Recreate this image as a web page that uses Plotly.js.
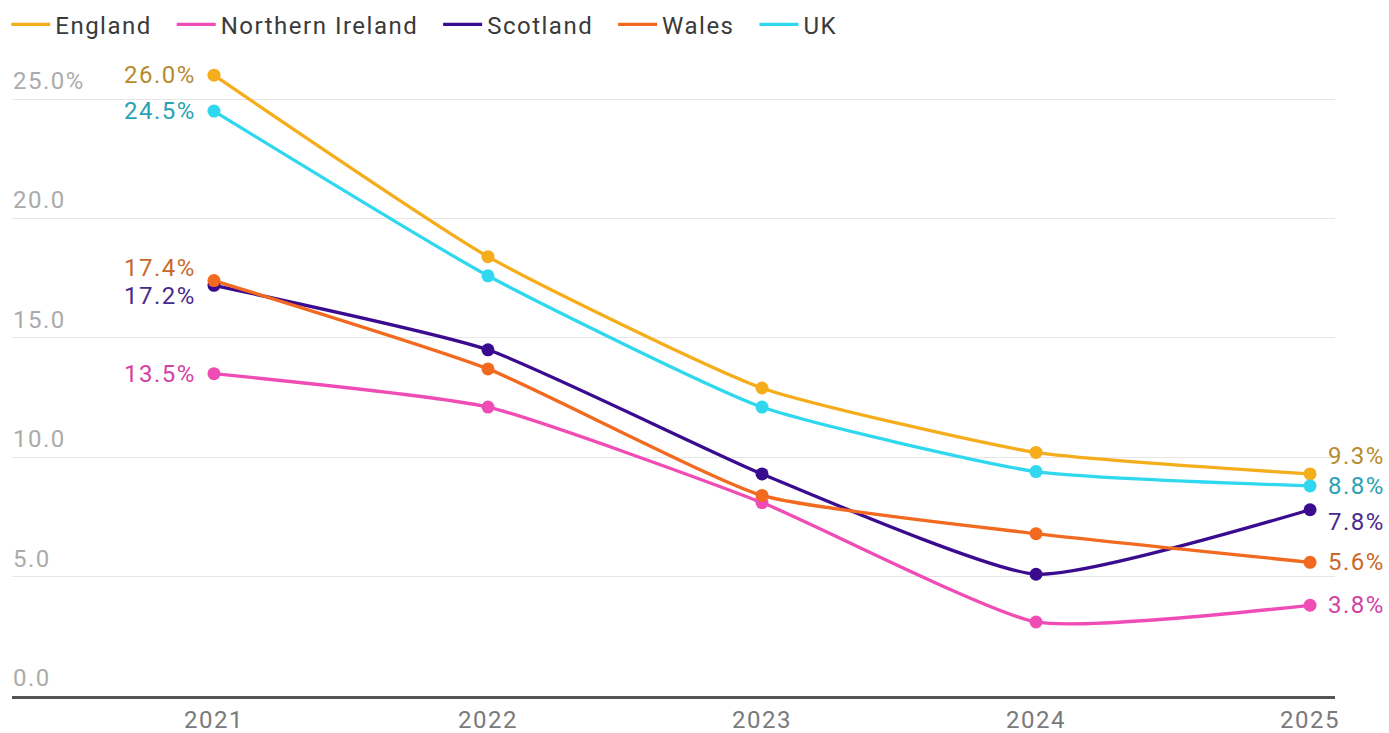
<!DOCTYPE html>
<html>
<head>
<meta charset="utf-8">
<script src="https://cdn.plot.ly/plotly-3.0.1.min.js"></script>
<style>
html,body{margin:0;padding:0;background:#fff;}
#chart{width:1389px;height:733px;}
text{letter-spacing:1.5px;}
</style>
</head>
<body>
<div id="chart"></div>
<script>
const years = [2021, 2022, 2023, 2024, 2025];
const seriesNames = ["England", "Northern Ireland", "Scotland", "Wales", "UK"];
const england = [26.0, 18.4, 12.9, 10.2, 9.3];
const northernIreland = [13.5, 12.1, 8.1, 3.1, 3.8];
const scotland = [17.2, 14.5, 9.3, 5.1, 7.8];
const wales = [17.4, 13.7, 8.4, 6.8, 5.6];
const uk = [24.5, 17.6, 12.1, 9.4, 8.8];
const yTickValues = [0, 5, 10, 15, 20, 25];
const yTickLabels = ["0.0", "5.0", "10.0", "15.0", "20.0", "25.0%"];

const seriesValues = [england, northernIreland, scotland, wales, uk];
const lineColors = ["#f5ad1b", "#f04cb5", "#3b0b8f", "#f26a1f", "#2fd8ee"];
const labelColors = ["#b88a2e", "#d43fa4", "#4a2a8c", "#c8692c", "#2aa2b6"];
const startShift = [0, 0, -11, 13, 0];
const endShift = [18, 0, -12, 0, 0];
const FONT = 'Roboto, sans-serif';
const PAD = '\u00a0\u00a0';

const traces = [];
seriesValues.forEach((vals, i) => {
  traces.push({
    x: years, y: vals, name: seriesNames[i] + PAD, type: 'scatter', mode: 'lines',
    line: {color: lineColors[i], width: 3.3, shape: 'spline', smoothing: 0.5},
    hoverinfo: 'skip'
  });
});
seriesValues.forEach((vals, i) => {
  traces.push({
    x: years, y: vals, name: seriesNames[i], type: 'scatter', mode: 'markers',
    marker: {color: lineColors[i], size: 13}, showlegend: false, hoverinfo: 'skip'
  });
});

const annotations = [];
yTickValues.forEach((v, i) => {
  annotations.push({
    xref: 'paper', yref: 'y', x: 0, y: v, xanchor: 'left', yanchor: 'bottom',
    text: yTickLabels[i], showarrow: false, yshift: 3, borderpad: 0,
    font: {family: FONT, size: 24, color: '#ababab'}
  });
});
seriesValues.forEach((vals, i) => {
  const fmt = v => v.toFixed(1) + '%';
  annotations.push({
    x: years[0], y: vals[0], xanchor: 'right', yanchor: 'middle', xshift: -16, yshift: startShift[i],
    text: fmt(vals[0]), showarrow: false,
    font: {family: FONT, size: 24, color: labelColors[i]}
  });
  annotations.push({
    x: years[years.length - 1], y: vals[vals.length - 1], xanchor: 'left', yanchor: 'middle', xshift: 16, yshift: endShift[i],
    text: fmt(vals[vals.length - 1]), showarrow: false,
    font: {family: FONT, size: 24, color: labelColors[i]}
  });
});

const layout = {
  width: 1389, height: 733,
  margin: {l: 12, r: 54, t: 64, b: 37},
  paper_bgcolor: '#fff', plot_bgcolor: '#fff',
  font: {family: FONT, size: 24, color: '#444'},
  showlegend: true,
  legend: {orientation: 'h', xref: 'container', yref: 'container', x: 0.0045, xanchor: 'left', y: 0.997, yanchor: 'top',
           font: {family: FONT, size: 24, color: '#3a3a3a'}, itemwidth: 39, tracegroupgap: 0},
  xaxis: {
    range: [2020.263, 2025.091], tickvals: years, ticktext: years.map(String),
    showgrid: false, zeroline: false, showline: true, linecolor: '#555', linewidth: 2.5,
    ticks: '', ticklabelstandoff: 1,
    tickfont: {family: FONT, size: 24, color: '#7a7a7a'}
  },
  yaxis: {
    range: [0, 26.47], tickvals: yTickValues, showticklabels: false,
    showgrid: true, gridcolor: '#e6e6e6', gridwidth: 1, zeroline: false, showline: false
  },
  annotations: annotations
};

Plotly.newPlot('chart', traces, layout, {displayModeBar: false, staticPlot: true});
</script>
</body>
</html>
